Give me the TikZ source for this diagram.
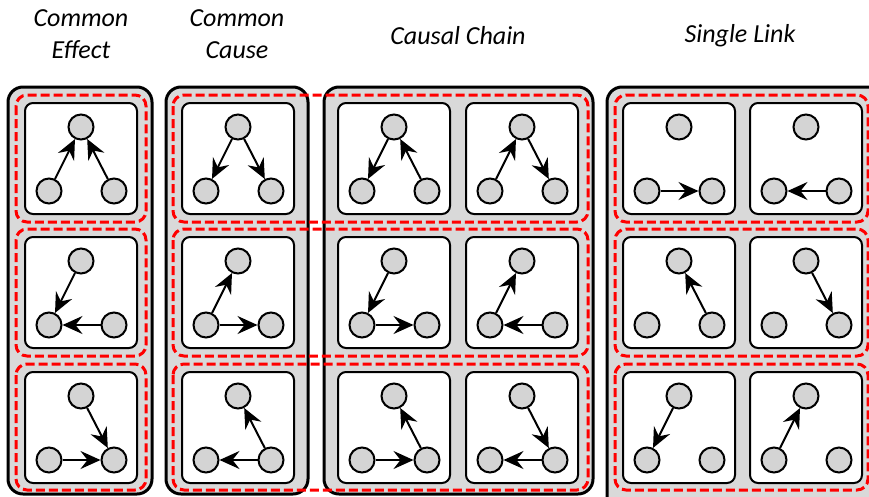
\documentclass[tikz,border=0pt]{standalone}
\usepackage{fontspec}
\setmainfont{Carlito}
\usetikzlibrary{arrows.meta}
\definecolor{panel}{RGB}{217,217,217}
\definecolor{vargray}{RGB}{212,212,212}
\tikzset{
  group/.style={line width=3pt, rounded corners=15pt, fill=panel},
  pairbox/.style={line width=3pt, red, dash pattern=on 9pt off 4pt, rounded corners=11pt},
  cell/.style={draw, line width=2pt, rounded corners=8pt, fill=white, minimum width=112pt, minimum height=111pt, inner sep=0pt},
  var/.style={circle, draw, line width=2pt, fill=vargray, minimum size=25pt, inner sep=0pt},
  arc/.style={line width=2pt, -{Stealth[length=20pt, width=18pt, inset=7pt]}},
  title/.style={font=\fontsize{26}{32}\selectfont\itshape, align=center}
}
\begin{document}
\begin{tikzpicture}[x=1pt,y=-1pt]
    \useasboundingbox (0,0) rectangle (869,496);
    \clip (0,0) rectangle (869,496);

    % titles
    \node[title] (effect) at (81,34) {Common\\Effect};
    \node[title] (cause) at (237,34) {Common\\Cause};
    \node[title] (chain) at (458,36) {Causal Chain};
    \node[title] (single) at (740,36) {Single Link};

    % grey groups
    \draw[group] (8,87) rectangle (152,494);
    \draw[group] (166,87) rectangle (308,494);
    \draw[group] (324,87) rectangle (593,494);
    \draw[group] (607,87) rectangle (885,510);

    % red dashed rows
    \foreach \ya/\yb in {95/222, 229/356, 364/490} {
        \draw[pairbox] (16,\ya) rectangle (146,\yb);
        \draw[pairbox] (173,\ya) rectangle (588,\yb);
        \draw[pairbox] (615,\ya) rectangle (868,\yb);
    }

    % cells and variables
    \foreach \c/\x in {1/25, 2/182, 3/338, 4/466, 5/623, 6/750} {
        \foreach \r/\y in {1/103, 2/237, 3/372} {
            \node[cell] (box\c\r) at ({\x+56},{\y+55.5}) {};
            \node[var] (top\c\r) at ({\x+56},{\y+24}) {};
            \node[var] (lft\c\r) at ({\x+24},{\y+88}) {};
            \node[var] (rgt\c\r) at ({\x+89},{\y+88}) {};
        }
    }

    % common effect
    \draw[arc] (lft11) -- (top11);
    \draw[arc] (rgt11) -- (top11);
    \draw[arc] (top12) -- (lft12);
    \draw[arc] (rgt12) -- (lft12);
    \draw[arc] (top13) -- (rgt13);
    \draw[arc] (lft13) -- (rgt13);

    % common cause
    \draw[arc] (top21) -- (lft21);
    \draw[arc] (top21) -- (rgt21);
    \draw[arc] (lft22) -- (top22);
    \draw[arc] (lft22) -- (rgt22);
    \draw[arc] (rgt23) -- (top23);
    \draw[arc] (rgt23) -- (lft23);

    % causal chain
    \draw[arc] (top31) -- (lft31);
    \draw[arc] (rgt31) -- (top31);
    \draw[arc] (lft41) -- (top41);
    \draw[arc] (top41) -- (rgt41);
    \draw[arc] (top32) -- (lft32);
    \draw[arc] (lft32) -- (rgt32);
    \draw[arc] (lft42) -- (top42);
    \draw[arc] (rgt42) -- (lft42);
    \draw[arc] (lft33) -- (rgt33);
    \draw[arc] (rgt33) -- (top33);
    \draw[arc] (top43) -- (rgt43);
    \draw[arc] (rgt43) -- (lft43);

    % single link
    \draw[arc] (lft51) -- (rgt51);
    \draw[arc] (rgt61) -- (lft61);
    \draw[arc] (rgt52) -- (top52);
    \draw[arc] (top62) -- (rgt62);
    \draw[arc] (top53) -- (lft53);
    \draw[arc] (lft63) -- (top63);

\end{tikzpicture}
\end{document}
